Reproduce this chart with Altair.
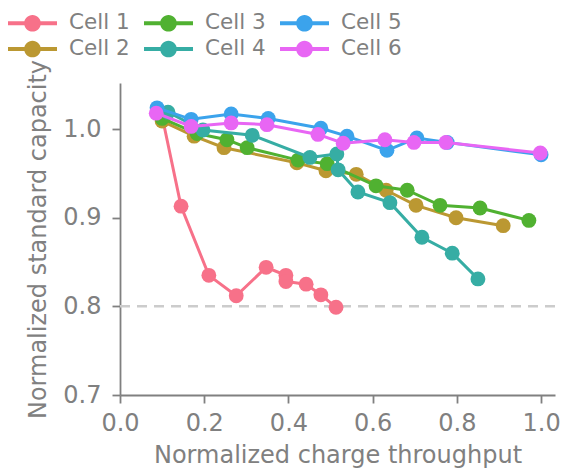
import altair as alt
import pandas as pd

cells = ["Cell 1", "Cell 2", "Cell 3", "Cell 4", "Cell 5", "Cell 6"]
colors = ["#f77189", "#bb9832", "#50b131", "#36ada4", "#3ba3ec", "#e866f4"]

c1_x = [0.102, 0.145, 0.211, 0.276, 0.347, 0.394, 0.394, 0.442, 0.477, 0.513]
c1_y = [1.010, 0.913, 0.835, 0.812, 0.844, 0.835, 0.828, 0.825, 0.813, 0.799]

c2_x = [0.100, 0.176, 0.247, 0.420, 0.489, 0.561, 0.632, 0.703, 0.798, 0.910]
c2_y = [1.009, 0.992, 0.979, 0.962, 0.953, 0.949, 0.931, 0.914, 0.900, 0.891]

c3_x = [0.100, 0.183, 0.254, 0.302, 0.423, 0.492, 0.608, 0.682, 0.760, 0.855, 0.971]
c3_y = [1.012, 0.995, 0.988, 0.979, 0.965, 0.961, 0.936, 0.931, 0.914, 0.911, 0.897]

c4_x = [0.114, 0.197, 0.314, 0.451, 0.515, 0.518, 0.565, 0.641, 0.717, 0.789, 0.850]
c4_y = [1.019, 0.999, 0.993, 0.968, 0.972, 0.954, 0.929, 0.917, 0.878, 0.860, 0.831]

c5_x = [0.088, 0.169, 0.264, 0.352, 0.477, 0.539, 0.634, 0.705, 0.777, 1.000]
c5_y = [1.024, 1.011, 1.017, 1.012, 1.001, 0.992, 0.976, 0.990, 0.985, 0.971]

c6_x = [0.086, 0.169, 0.264, 0.349, 0.470, 0.530, 0.629, 0.698, 0.774, 0.998]
c6_y = [1.018, 1.003, 1.007, 1.005, 0.994, 0.984, 0.988, 0.985, 0.985, 0.973]

x_ticks = [0.0, 0.2, 0.4, 0.6, 0.8, 1.0]
y_ticks = [0.7, 0.8, 0.9, 1.0]
threshold = 0.8

series = [(c1_x, c1_y), (c2_x, c2_y), (c3_x, c3_y), (c4_x, c4_y), (c5_x, c5_y), (c6_x, c6_y)]
rows = []
for name, (xs, ys) in zip(cells, series):
    for i, (xv, yv) in enumerate(zip(xs, ys)):
        rows.append({"cell": name, "x": xv, "y": yv, "i": i})
df = pd.DataFrame(rows)

GRAY = "#808080"
FONT = "DejaVu Sans"

sym_path = ("M-1,-0.085L1,-0.085L1,0.085L-1,0.085Z "
            "M0.34,0A0.34,0.34,0,1,1,-0.34,0A0.34,0.34,0,1,1,0.34,0Z")

xscale = alt.Scale(domain=[0, 1.033], nice=False, zero=False)
yscale = alt.Scale(domain=[0.7, 1.052], nice=False, zero=False)
cscale = alt.Scale(domain=cells, range=colors)

xaxis = alt.Axis(values=x_ticks, format=".1f", title="Normalized charge throughput",
                 labelPadding=8, titlePadding=8)
yaxis = alt.Axis(values=y_ticks, format=".1f", title="Normalized standard capacity",
                 labelPadding=11, titlePadding=12)

legend = alt.Legend(
    title=None, orient="none", legendX=-112, legendY=-70, columns=3,
    direction="vertical", clipHeight=20,
    symbolType=sym_path, symbolSize=2401, symbolStrokeWidth=0, symbolOpacity=1,
    labelFont=FONT, labelFontSize=21.5, labelColor=GRAY, labelOffset=12,
    columnPadding=14, rowPadding=4,
)

base = alt.Chart(df)
layers = [
    alt.Chart(pd.DataFrame({"y": [threshold]})).mark_rule(
        color="#cccccc", strokeWidth=2.5, strokeDash=[10, 7]
    ).encode(y=alt.Y("y:Q", scale=yscale, axis=yaxis))
]
for name, col in zip(cells, colors):
    sub = base.transform_filter(alt.datum.cell == name)
    xenc = alt.X("x:Q", scale=xscale, axis=xaxis)
    yenc = alt.Y("y:Q", scale=yscale, axis=yaxis)
    layers.append(sub.mark_line(strokeWidth=3, color=col).encode(x=xenc, y=yenc, order="i:Q"))
    layers.append(sub.mark_circle(size=220, opacity=1).encode(
        x=xenc, y=yenc,
        color=alt.Color("cell:N", scale=cscale, legend=legend)))

chart = alt.layer(*layers).properties(
    width=435, height=312,
    autosize=alt.AutoSizeParams(type="none"),
    padding={"left": 120, "top": 83, "right": 7, "bottom": 74},
).configure_view(stroke=None).configure_axis(
    grid=False, domainColor=GRAY, domainWidth=1.8, tickColor=GRAY, tickWidth=1.8,
    tickSize=8, labelFont=FONT, labelFontSize=24, labelColor=GRAY, labelFlush=False,
    titleFont=FONT, titleFontSize=24, titleFontWeight="normal", titleColor=GRAY,
)

chart.save("out.html", embed_options={"renderer": "svg", "actions": False})
